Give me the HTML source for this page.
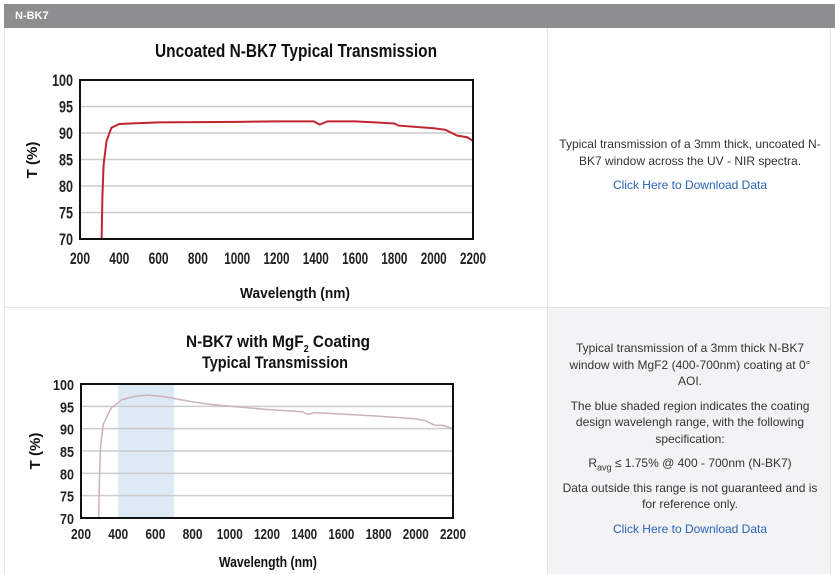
<!DOCTYPE html>
<html><head><meta charset="utf-8"><style>
body{margin:0;width:835px;height:574px;overflow:hidden;background:#fff;font-family:"Liberation Sans",sans-serif;}
.hdr{position:absolute;left:4px;top:4px;width:831px;height:24px;background:#8e8e90;color:#fff;font-weight:bold;font-size:11px;line-height:24px;padding-left:11px;box-sizing:border-box;}
.txt{position:absolute;left:558px;width:264px;text-align:center;font-size:12px;color:#333;line-height:16.5px;}
.txt p{margin:0 0 8px 0}
a{color:#2a62b8;text-decoration:none}
</style></head><body>
<div class="hdr">N-BK7</div>
<div style="position:absolute;left:4px;top:28px;width:1px;height:546px;background:#e4e4e4"></div>
<div style="position:absolute;left:547px;top:28px;width:1px;height:546px;background:#e4e4e4"></div>
<div style="position:absolute;left:548px;top:308px;width:282px;height:266px;background:#f3f3f5"></div>
<div style="position:absolute;left:4px;top:307px;width:826px;height:1px;background:#e4e4e4"></div>
<div style="position:absolute;left:830px;top:28px;width:1px;height:546px;background:#e4e4e4"></div>
<div class="txt" style="top:136px"><p>Typical transmission of a 3mm thick, uncoated N-BK7 window across the UV - NIR spectra.</p><p><a>Click Here to Download Data</a></p></div>
<div class="txt" style="top:340px"><p>Typical transmission of a 3mm thick N-BK7 window with MgF2 (400-700nm) coating at 0° AOI.</p><p>The blue shaded region indicates the coating design wavelengh range, with the following specification:</p><p style="margin-bottom:4px">R<sub style="font-size:9px">avg</sub> ≤ 1.75% @ 400 - 700nm (N-BK7)</p><p>Data outside this range is not guaranteed and is for reference only.</p><p><a>Click Here to Download Data</a></p></div>
<svg id="s" width="835" height="574" style="position:absolute;left:0;top:0" font-family="Liberation Sans, sans-serif" font-weight="bold"></svg>
<script>
var s=document.getElementById('s'),h='';
function chart(x0,x1,y0,y1,ty,pts,col,shade,fs){
 var X=w=>x0+(w-200)*(x1-x0)/2000,Y=t=>y0+(100-t)*(y1-y0)/30;
 if(shade)h+='<rect x="'+X(400)+'" y="'+y0+'" width="'+(X(700)-X(400))+'" height="'+(y1-y0)+'" fill="#dde9f5"/>';
 for(var t=75;t<100;t+=5)h+='<line x1="'+x0+'" x2="'+x1+'" y1="'+Y(t)+'" y2="'+Y(t)+'" stroke="#ccc" stroke-width="1.5"/>';
 h+='<polyline fill="none" stroke="'+col+'" stroke-width="'+(shade?1.5:2)+'" points="'+pts.map(p=>X(p[0])+','+Y(p[1])).join(' ')+'"/>';
 h+='<rect x="'+x0+'" y="'+y0+'" width="'+(x1-x0)+'" height="'+(y1-y0)+'" fill="none" stroke="#111" stroke-width="2"/>';
 for(t=70;t<=100;t+=5)h+='<text x="'+(x0-7)+'" y="'+(Y(t)+6)+'" text-anchor="end" font-size="'+fs+'" fill="#222" textLength="'+(t==100?21:14)+'" lengthAdjust="spacingAndGlyphs">'+t+'</text>';
 for(var w=200;w<=2200;w+=200)h+='<text x="'+X(w)+'" y="'+ty+'" text-anchor="middle" font-size="'+fs+'" fill="#222" textLength="'+(w>=1000?26:20)+'" lengthAdjust="spacingAndGlyphs">'+w+'</text>';
}
chart(80,473,80,239,264,[[310,70],[314,78],[320,84],[335,88.5],[360,91],[400,91.7],[600,92],[1000,92.1],[1200,92.2],[1390,92.2],[1420,91.6],[1460,92.2],[1600,92.2],[1800,91.8],[1820,91.4],[2000,90.9],[2060,90.6],[2120,89.5],[2170,89.2],[2200,88.5]],'#c0262f',false,17);
chart(81,453,384,518,539,[[295,70],[300,80],[305,86],[320,91],[360,94.5],[420,96.5],[500,97.3],[560,97.5],[640,97.2],[800,96],[900,95.4],[1200,94.3],[1390,93.8],[1420,93.2],[1460,93.6],[1800,92.8],[2000,92.2],[2050,91.8],[2100,90.8],[2150,90.7],[2200,90]],'#cdb2b8',true,15);
h+='<text x="296" y="57" text-anchor="middle" font-size="18" textLength="282" lengthAdjust="spacingAndGlyphs" fill="#111">Uncoated N-BK7 Typical Transmission</text>';
h+='<text x="295" y="298" text-anchor="middle" font-size="15" textLength="110" lengthAdjust="spacingAndGlyphs" fill="#111">Wavelength (nm)</text>';
h+='<text transform="translate(37,160) rotate(-90)" text-anchor="middle" font-size="15" fill="#111">T (%)</text>';
h+='<text x="278" y="347" text-anchor="middle" font-size="17" textLength="184" lengthAdjust="spacingAndGlyphs" fill="#111">N-BK7 with MgF<tspan font-size="10" dy="5">2</tspan><tspan dy="-5"> Coating</tspan></text>';
h+='<text x="275" y="368" text-anchor="middle" font-size="17" textLength="146" lengthAdjust="spacingAndGlyphs" fill="#111">Typical Transmission</text>';
h+='<text x="268" y="567" text-anchor="middle" font-size="15" textLength="98" lengthAdjust="spacingAndGlyphs" fill="#111">Wavelength (nm)</text>';
h+='<text transform="translate(40,451) rotate(-90)" text-anchor="middle" font-size="15" fill="#111">T (%)</text>';
s.innerHTML=h;
</script>
</body></html>
